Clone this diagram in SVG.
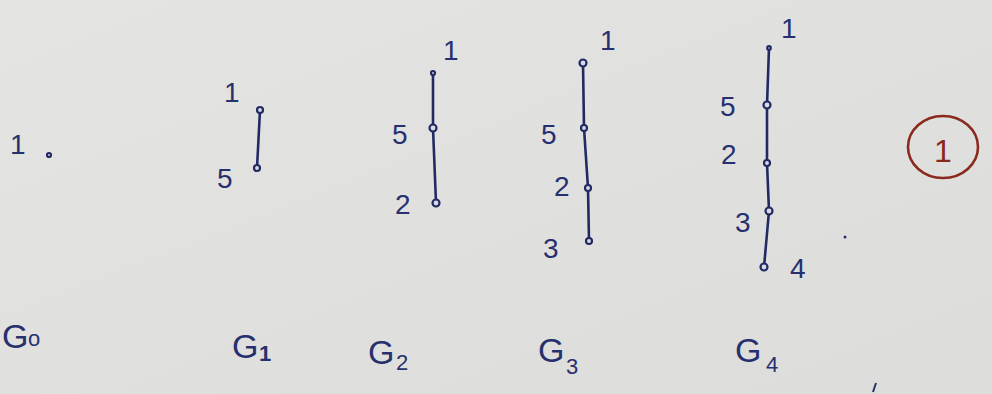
<svg xmlns="http://www.w3.org/2000/svg" width="992" height="394" viewBox="0 0 992 394">
<defs>
<linearGradient id="bg" x1="0" y1="0" x2="1" y2="1">
<stop offset="0" stop-color="#e4e5e3"/>
<stop offset="1" stop-color="#dcdddb"/>
</linearGradient>
<style>
.t{font-family:"Liberation Sans","DejaVu Sans",sans-serif;fill:#27306e;font-size:28px}
.g{font-family:"Liberation Sans","DejaVu Sans",sans-serif;fill:#27306e;font-size:34px}
.s{font-family:"Liberation Sans","DejaVu Sans",sans-serif;fill:#27306e;font-size:22px}
.e{stroke:#222a63;stroke-width:2.6;fill:none;stroke-linecap:round}
.n{stroke:#222a63;stroke-width:2.2;fill:#d8dbe4}
</style>
</defs>
<rect width="992" height="394" fill="url(#bg)"/>
<g id="connectors">
<path class="e" d="M260 110 L257 168"/>
<path class="e" d="M433 73 L433 128 L436 203"/>
<path class="e" d="M583 63 L584 128 L588 188 L589 241"/>
<path class="e" d="M769 48 L767 105 L767 163 L769 211 L764 267"/>
</g>
<g id="G0">
<text class="t" x="10" y="154">1</text>
<circle class="n" cx="49" cy="155" r="2"/>
<text class="g" x="2" y="348">G</text><text class="s" x="28" y="346">o</text>
</g>
<g id="G1">
<text class="t" x="224" y="102">1</text>
<text class="t" x="217" y="188">5</text>
<circle class="n" cx="260" cy="110" r="3"/>
<circle class="n" cx="257" cy="168" r="3"/>
<text class="g" x="232" y="358">G</text><text class="s" x="259" y="361" font-weight="bold">1</text>
</g>
<g id="G2">
<text class="t" x="443" y="60">1</text>
<text class="t" x="392" y="144">5</text>
<text class="t" x="395" y="214">2</text>
<circle class="n" cx="433" cy="73" r="2"/>
<circle class="n" cx="433" cy="128" r="3.5"/>
<circle class="n" cx="436" cy="203" r="3.5"/>
<text class="g" x="368" y="364">G</text><text class="s" x="396" y="370">2</text>
</g>
<g id="G3">
<text class="t" x="600" y="50">1</text>
<text class="t" x="541" y="144">5</text>
<text class="t" x="554" y="196">2</text>
<text class="t" x="543" y="258">3</text>
<circle class="n" cx="583" cy="63" r="3.5"/>
<circle class="n" cx="584" cy="128" r="3"/>
<circle class="n" cx="588" cy="188" r="3"/>
<circle class="n" cx="589" cy="241" r="3"/>
<text class="g" x="538" y="362">G</text><text class="s" x="566" y="374">3</text>
</g>
<g id="G4">
<text class="t" x="781" y="38">1</text>
<text class="t" x="720" y="116">5</text>
<text class="t" x="721" y="164">2</text>
<text class="t" x="735" y="232">3</text>
<text class="t" x="790" y="278">4</text>
<circle class="n" cx="769" cy="48" r="1.8"/>
<circle class="n" cx="767" cy="105" r="3.5"/>
<circle class="n" cx="767" cy="163" r="3"/>
<circle class="n" cx="769" cy="211" r="3.5"/>
<circle class="n" cx="764" cy="267" r="3.5"/>
<circle cx="845" cy="237" r="1.5" fill="#27306e"/>
<text class="g" x="735" y="362">G</text><text class="s" x="766" y="372">4</text>
</g>
<g id="mark">
<ellipse cx="943" cy="147" rx="35" ry="31" fill="none" stroke="#8a2a1e" stroke-width="2.6"/>
<text x="943" y="162" font-family="Liberation Sans, sans-serif" font-size="32" fill="#8a2a1e" text-anchor="middle">1</text>
</g>
<path d="M873 392 L876 383" stroke="#27306e" stroke-width="2" fill="none"/>
</svg>
